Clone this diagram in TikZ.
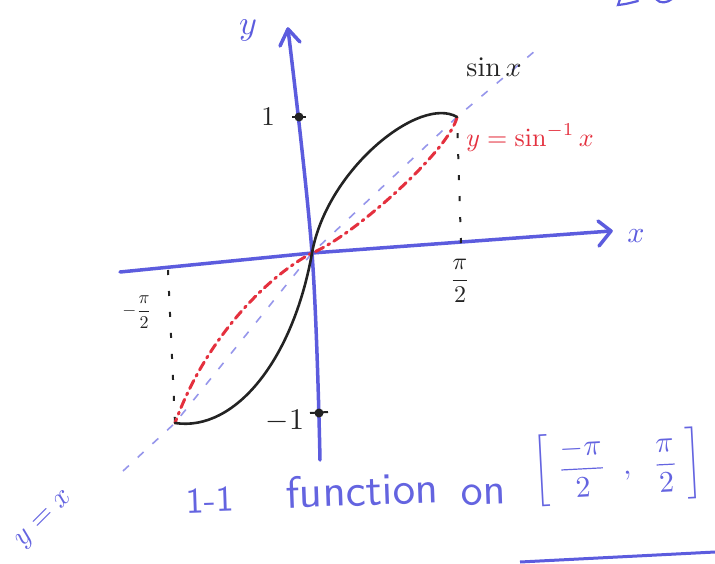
\documentclass[tikz,border=0pt]{standalone}
\usepackage{amsmath}
\definecolor{axisblue}{RGB}{92,92,222}
\definecolor{textblue}{RGB}{100,100,224}
\definecolor{curveblack}{RGB}{35,35,35}
\definecolor{invred}{RGB}{228,48,62}
\definecolor{diagblue}{RGB}{150,150,235}
\begin{document}
\begin{tikzpicture}[x=1pt,y=-1pt,
  axis/.style={line width=3.5pt, axisblue, line cap=round, line join=round},
  curve/.style={line width=2.6pt, curveblack, line cap=round},
  inv/.style={line width=3pt, invred, line cap=round, dash pattern=on 9pt off 5pt on 2pt off 5pt},
  diag/.style={line width=1.6pt, diagblue, dash pattern=on 8pt off 12pt},
  guide/.style={line width=2pt, curveblack, dash pattern=on 5pt off 16pt},
  lbl/.style={inner sep=0pt}]
\useasboundingbox (0,0) rectangle (715,563);
% named points
\coordinate (O) at (312,253);
\coordinate (ytip) at (288,29);
\coordinate (ybot) at (320,460);
\coordinate (xtip) at (611,231);
\coordinate (xleft) at (120,272);
\coordinate (tone) at (299,117);
\coordinate (tmone) at (319,413);
\coordinate (P) at (457,117);
\coordinate (Q) at (175,423);
\coordinate (pfoot) at (461,243);
\coordinate (mfoot) at (168,270);
\coordinate (dA) at (123,471);
\coordinate (dB) at (542,45);
% axes
\draw[axis] (xleft) -- (O) -- (xtip);
\draw[axis] (598,221) -- (xtip) -- (599,246);
\draw[axis] plot[smooth,tension=0.6] coordinates {(ytip) (O) (ybot)};
\draw[axis] (280,46) -- (ytip) -- (300,42);
% ticks
\fill[curveblack] (tone) circle (4.5);
\draw[curveblack,line width=2pt] (292,117) -- (306,117);
\fill[curveblack] (tmone) circle (4.5);
\draw[curveblack,line width=2pt] (310,413) -- (328,412);
% y = x diagonal
\draw[diag] (dA) -- (Q) -- (O) -- (P) -- (dB);
% guides
\draw[guide] (pfoot) -- (P);
\draw[guide] (mfoot) -- (Q);
% inverse (red)
\draw[inv] (P) .. controls (450,150) and (352,237) .. (O)
           .. controls (270,275) and (207,335) .. (Q);
% black curve
\draw[curve] (Q) .. controls (235,432) and (293,360) .. (O)
             .. controls (327,169) and (420,95) .. (P);
% labels
\node[lbl, axisblue, scale=3.4] (ylab) at (248,30) {$y$};
\node[lbl, axisblue, scale=3.0] (xlab) at (636,236) {$x$};
\node[lbl, curveblack, scale=2.7] (one) at (268,117) {$1$};
\node[lbl, curveblack, scale=3.0] (mone) at (285,421) {$-1$};
\node[lbl, curveblack, scale=2.4] (pih) at (460,281) {$\dfrac{\pi}{2}$};
\node[lbl, curveblack, scale=1.8] (mpih) at (137,312) {$-\dfrac{\pi}{2}$};
\node[lbl, curveblack, scale=2.8] (sinx) at (494,67) {$\sin x$};
\node[lbl, invred, scale=2.6] (asin) at (530,138) {$y=\sin^{-1}x$};
\node[lbl, textblue, scale=2.9, rotate=45] (yx) at (45,520) {$y = x$};
% bottom caption
\node[lbl, textblue, font=\sffamily, scale=3.6, rotate=2] (c1) at (210,500) {1-1};
\node[lbl, textblue, font=\sffamily, scale=4.5, rotate=2] (c2) at (362,490) {function};
\node[lbl, textblue, font=\sffamily, scale=4.4, rotate=2] (c3) at (484,495) {on};
\node[lbl, textblue, scale=3.0, rotate=3] (c4) at (618,467) {$\left[\;\dfrac{-\pi}{2}\;\;,\;\;\dfrac{\pi}{2}\;\right]$};
% scribbles at the edges
\draw[axisblue, line width=2.2pt, line cap=round] (620,-1) -- (618,5) .. controls (626,4) .. (638,1);
\draw[axisblue, line width=2.2pt, line cap=round] (656,-1) .. controls (660,4) and (667,3) .. (672,-1);
\draw[axisblue, line width=3pt] (520,562) -- (715,552);
\end{tikzpicture}
\end{document}
